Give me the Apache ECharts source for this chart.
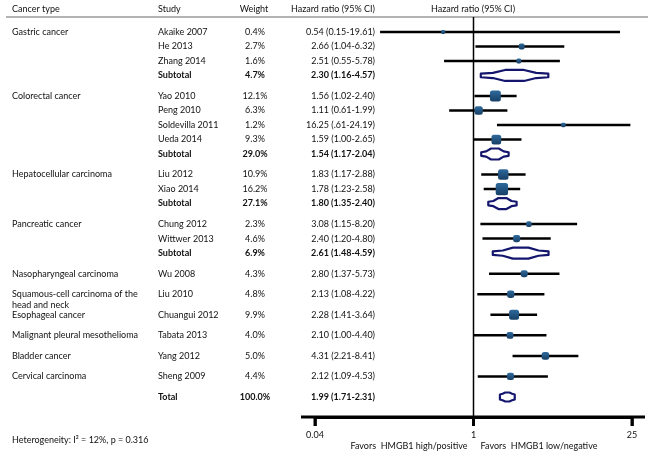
<!DOCTYPE html>
<html><head><meta charset="utf-8">
<script src="https://cdn.jsdelivr.net/npm/echarts@6/dist/echarts.min.js"></script>
<style>html,body{margin:0;padding:0;background:#fff}#c{width:650px;height:454px}</style>
</head><body><div id="c"></div>
<script>
// ---- data ----
const cancerTypes = ['Gastric cancer','','','',
  'Colorectal cancer','','','','',
  'Hepatocellular carcinoma','','',
  'Pancreatic cancer','','',
  'Nasopharyngeal carcinoma',
  'Squamous-cell carcinoma of the\nhead and neck',
  'Esophageal cancer',
  'Malignant pleural mesothelioma',
  'Bladder cancer',
  'Cervical carcinoma',
  ''];
const studies = ['Akaike 2007','He 2013','Zhang 2014','Subtotal',
  'Yao 2010','Peng 2010','Soldevilla 2011','Ueda 2014','Subtotal',
  'Liu 2012','Xiao 2014','Subtotal',
  'Chung 2012','Wittwer 2013','Subtotal',
  'Wu 2008','Liu 2010','Chuangui 2012','Tabata 2013','Yang 2012','Sheng 2009','Total'];
const rowKinds = ['study','study','study','subtotal',
  'study','study','study','study','subtotal',
  'study','study','subtotal',
  'study','study','subtotal',
  'study','study','study','study','study','study','total'];
const weights = [0.4,2.7,1.6,4.7, 12.1,6.3,1.2,9.3,29.0, 10.9,16.2,27.1, 2.3,4.6,6.9, 4.3,4.8,9.9,4.0,5.0,4.4,100.0];
const hrLabels = ['0.54 (0.15-19.61)','2.66 (1.04-6.32)','2.51 (0.55-5.78)','2.30 (1.16-4.57)',
  '1.56 (1.02-2.40)','1.11 (0.61-1.99)','16.25 (.61-24.19)','1.59 (1.00-2.65)','1.54 (1.17-2.04)',
  '1.83 (1.17-2.88)','1.78 (1.23-2.58)','1.80 (1.35-2.40)',
  '3.08 (1.15-8.20)','2.40 (1.20-4.80)','2.61 (1.48-4.59)',
  '2.80 (1.37-5.73)','2.13 (1.08-4.22)','2.28 (1.41-3.64)','2.10 (1.00-4.40)','4.31 (2.21-8.41)','2.12 (1.09-4.53)','1.99 (1.71-2.31)'];
// plotted estimates as drawn in the picture
const hr = [0.54,2.66,2.51,2.30, 1.56,1.11,6.2,1.59,1.54, 1.83,1.78,1.80, 3.08,2.40,2.61, 2.80,2.13,2.28,2.10,4.31,2.12,1.99];
const lo = [0.15,1.04,0.55,1.16, 1.02,0.61,1.61,1.00,1.17, 1.17,1.23,1.35, 1.15,1.20,1.48, 1.37,1.08,1.41,1.00,2.21,1.09,1.71];
const hi = [19.61,6.32,5.78,4.57, 2.40,1.99,24.19,2.65,2.04, 2.88,2.58,2.40, 8.20,4.80,4.59, 5.73,4.22,3.64,4.40,8.41,4.53,2.31];
const xTicks = [0.04, 1, 25];
const headers = ['Cancer type','Study','Weight','Hazard ratio (95% CI)','Hazard ratio (95% CI)'];
const heterogeneity = 'Heterogeneity: I\u00b2 = 12%, p = 0.316';
const favorLeft = 'Favors  HMGB1 high/positive';
const favorRight = 'Favors  HMGB1 low/negative';

// ---- layout ----
const FONT = 'Lato, "Open Sans", sans-serif';
const FS = 9;
const GAP = 1.417;
const pos = [];
for (let i = 0; i < studies.length; i++) {
  if (i === 0) pos.push(0);
  else pos.push(pos[i-1] + ((cancerTypes[i] || rowKinds[i] === 'total') ? GAP : 1));
}
const Y_MIN = -1.03, Y_MAX = pos[pos.length-1] + 1.38;

const chart = echarts.init(document.getElementById('c'), null, {renderer: 'canvas'});

function txt(x, y, text, align, bold) {
  return {type: 'text', style: {x: x, y: y, text: text, textAlign: align, textVerticalAlign: 'middle',
    fill: '#111', font: (bold ? 'bold ' : '') + FS + 'px ' + FONT}};
}

function renderText(params, api) {
  const i = api.value(2);
  const y = api.coord([1, api.value(1)])[1];
  const bold = rowKinds[i] !== 'study';
  const children = [];
  const lines = cancerTypes[i].split('\n');
  lines.forEach((l, k) => { if (l) children.push(txt(12, y + k * 11, l, 'left', false)); });
  children.push(txt(158, y, studies[i], 'left', bold));
  children.push(txt(255, y, weights[i].toFixed(1) + '%', 'center', bold));
  children.push(txt(375, y, hrLabels[i], 'right', bold));
  return {type: 'group', children: children};
}

function renderCI(params, api) {
  const i = api.value(2);
  const yv = api.value(1);
  const c = api.coord([api.value(0), yv]);
  const pl = api.coord([lo[i], yv]);
  const ph = api.coord([hi[i], yv]);
  const y = c[1];
  if (rowKinds[i] === 'study') {
    const s = Math.max(4, 2.7 * Math.sqrt(weights[i]) + 1.5);
    return {type: 'group', children: [
      {type: 'line', shape: {x1: pl[0], y1: y, x2: ph[0], y2: y}, style: {stroke: '#000', lineWidth: 2.5}},
      {type: 'rect', shape: {x: c[0] - s/2, y: y - s/2, width: s, height: s, r: Math.min(2.5, s/3)},
        style: {fill: new echarts.graphic.LinearGradient(0, 0, 0, 1, [{offset: 0, color: '#2f6a9c'}, {offset: 1, color: '#173f66'}])}}
    ]};
  }
  const h = rowKinds[i] === 'total' ? 9 : 11;
  const w = ph[0] - pl[0];
  const x0 = pl[0];
  const t = rowKinds[i] === 'total' ? 2.5 : 1.8;
  const pts = [[x0, y - t], [x0 + 0.18*w, y - t - 0.8], [x0 + 0.36*w, y - h/2], [x0 + 0.64*w, y - h/2], [x0 + 0.82*w, y - t - 0.8],
    [x0 + w, y - t], [x0 + w, y + t], [x0 + 0.82*w, y + t + 0.8], [x0 + 0.64*w, y + h/2], [x0 + 0.36*w, y + h/2], [x0 + 0.18*w, y + t + 0.8], [x0, y + t]];
  return {type: 'polygon', shape: {points: pts}, style: {fill: '#fff', stroke: '#14166e', lineWidth: 2.2, lineJoin: 'round'}};
}

function renderFrame(params, api) {
  const top = api.coord([1, Y_MIN]);
  const bot = api.coord([1, Y_MAX]);
  const a = api.coord([xTicks[0], Y_MAX]);
  const b = api.coord([xTicks[xTicks.length-1], Y_MAX]);
  const children = [
    {type: 'line', shape: {x1: top[0], y1: top[1], x2: bot[0], y2: bot[1]}, style: {stroke: '#000', lineWidth: 1.5}},
    {type: 'line', shape: {x1: a[0] - 14, y1: a[1], x2: b[0] + 13, y2: b[1]}, style: {stroke: '#000', lineWidth: 2.8}}
  ];
  xTicks.forEach(v => {
    const p = api.coord([v, Y_MAX]);
    children.push({type: 'rect', shape: {x: p[0] - 1.5, y: p[1] - 1, width: 3, height: 10}, style: {fill: '#000'}});
  });
  return {type: 'group', children: children};
}

const rowData = studies.map((s, i) => [hr[i], pos[i], i]);

chart.setOption({
  animation: false,
  backgroundColor: '#fff',
  grid: {left: 315, right: 18, top: 17, bottom: 37},
  xAxis: {
    type: 'log', logBase: 25, min: xTicks[0], max: xTicks[xTicks.length-1],
    axisLine: {show: true, onZero: false, lineStyle: {color: '#000', width: 2.8}},
    axisTick: {show: true, length: 9, lineStyle: {color: '#000', width: 2.5}},
    axisLabel: {color: '#111', fontFamily: FONT, fontSize: FS, margin: 14,
      formatter: v => String(+(+v).toPrecision(3))},
    splitLine: {show: false}
  },
  yAxis: {type: 'value', inverse: true, min: Y_MIN, max: Y_MAX, show: false},
  graphic: [
    {type: 'line', shape: {x1: 6, y1: 17, x2: 648, y2: 17}, style: {stroke: '#9a9a9a', lineWidth: 1.5}},
    {type: 'text', x: 12, y: 9, style: {text: headers[0], font: FS + 'px ' + FONT, fill: '#111', textAlign: 'left', textVerticalAlign: 'middle'}},
    {type: 'text', x: 158, y: 9, style: {text: headers[1], font: FS + 'px ' + FONT, fill: '#111', textAlign: 'left', textVerticalAlign: 'middle'}},
    {type: 'text', x: 254, y: 9, style: {text: headers[2], font: FS + 'px ' + FONT, fill: '#111', textAlign: 'center', textVerticalAlign: 'middle'}},
    {type: 'text', x: 375, y: 9, style: {text: headers[3], font: FS + 'px ' + FONT, fill: '#111', textAlign: 'right', textVerticalAlign: 'middle'}},
    {type: 'text', x: 473, y: 9, style: {text: headers[4], font: FS + 'px ' + FONT, fill: '#111', textAlign: 'center', textVerticalAlign: 'middle'}},
    {type: 'text', x: 12, y: 440, style: {text: heterogeneity, font: FS + 'px ' + FONT, fill: '#111', textAlign: 'left', textVerticalAlign: 'middle'}},
    {type: 'text', x: 409, y: 446, style: {text: favorLeft, font: FS + 'px ' + FONT, fill: '#111', textAlign: 'center', textVerticalAlign: 'middle'}},
    {type: 'text', x: 539, y: 446, style: {text: favorRight, font: FS + 'px ' + FONT, fill: '#111', textAlign: 'center', textVerticalAlign: 'middle'}}
  ],
  series: [
    {type: 'custom', name: 'frame', data: [[1, 0, 0]], renderItem: renderFrame, silent: true, z: 1, clip: false},
    {type: 'custom', name: 'text', data: rowData, renderItem: renderText, silent: true, z: 2, clip: false},
    {type: 'custom', name: 'ci', data: rowData, renderItem: renderCI, silent: true, z: 3, clip: false}
  ]
});
</script></body></html>
